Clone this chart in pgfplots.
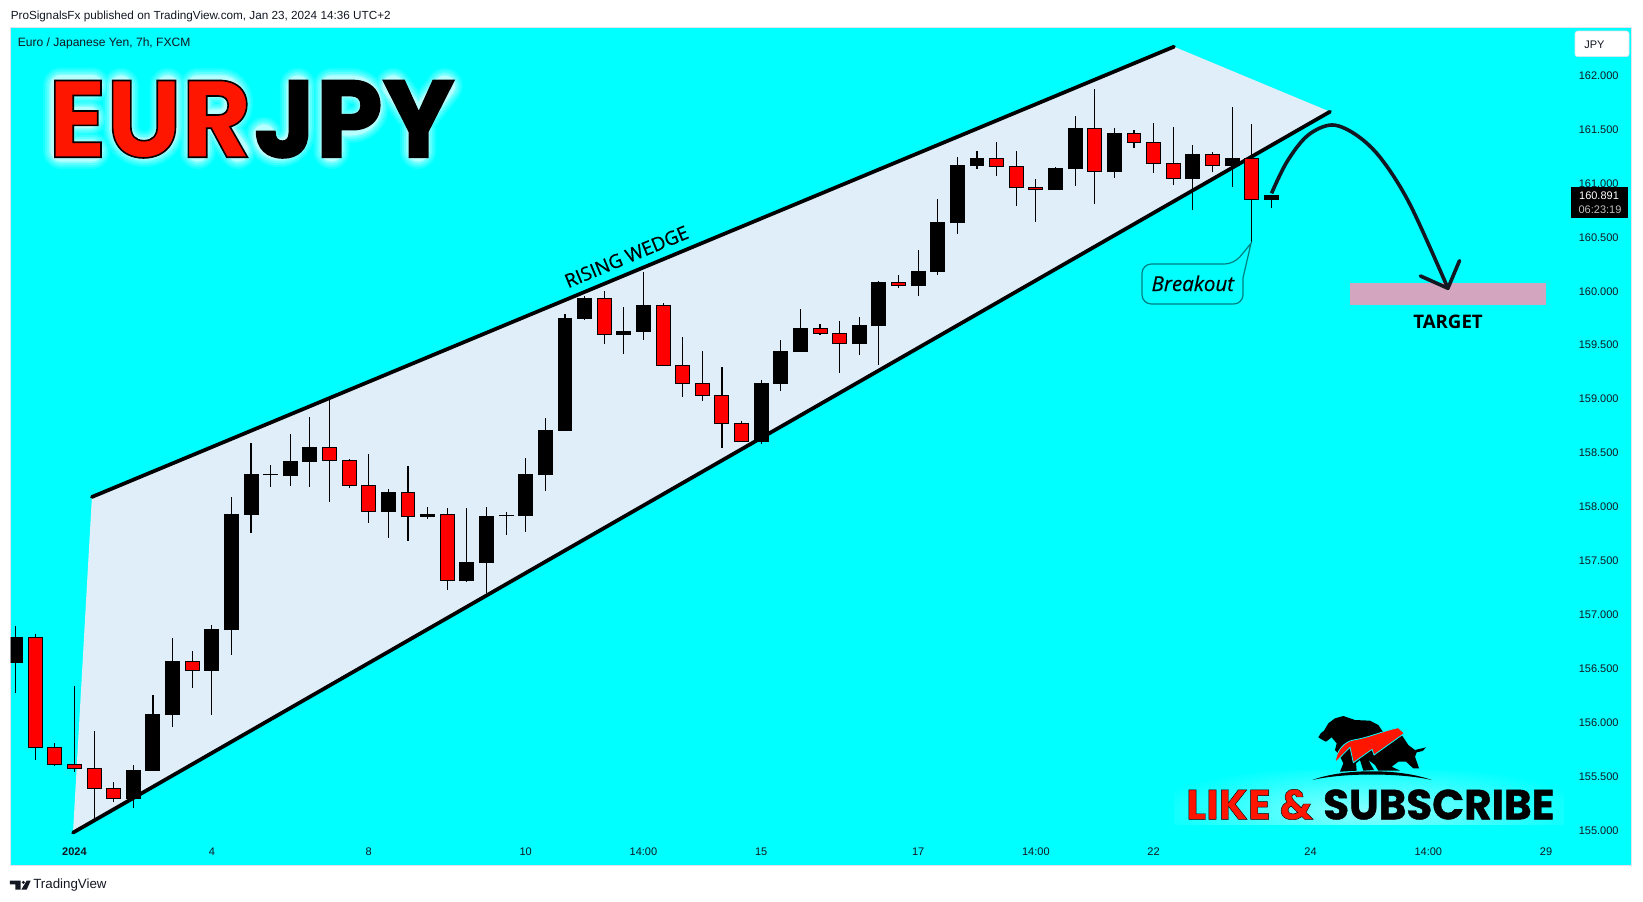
\documentclass[border=0pt]{standalone}
\usepackage{fontspec}
\usepackage{pgfplots}
\usepackage{pgfplotstable}
\pgfplotsset{compat=1.18}
\setmainfont{Liberation Sans}
\newfontfamily\pop{Poppins}
\newfontfamily\opn{Open Sans}
\definecolor{panel}{HTML}{00FFFF}
\definecolor{wedge}{HTML}{E0EEF9}
\definecolor{target}{HTML}{D4A5BF}
\definecolor{edge}{HTML}{E0E3EB}
\definecolor{ink}{HTML}{131722}
\definecolor{teal}{HTML}{007F7F}
\definecolor{logored}{HTML}{FF1600}

% candles: index, high, body top, body bottom, low
\pgfplotstableread{
i high top bot low
0 156.896 156.794 156.555 156.277
6 155.606 155.560 155.294 155.207
7 156.256 156.079 155.554 155.554
8 156.784 156.571 156.073 155.962
10 156.905 156.868 156.481 156.073
11 158.092 157.935 156.862 156.627
12 158.593 158.306 157.928 157.758
13 158.389 158.306 158.296 158.185
14 158.677 158.426 158.287 158.194
15 158.834 158.556 158.420 158.185
19 158.163 158.136 157.953 157.712
21 157.996 157.935 157.907 157.891
23 157.990 157.486 157.313 157.304
24 157.996 157.916 157.480 157.199
25 157.950 157.925 157.919 157.740
26 158.454 158.306 157.916 157.768
27 158.822 158.714 158.299 158.151
28 159.786 159.752 158.707 158.707
29 159.953 159.938 159.746 159.734
31 159.851 159.632 159.598 159.418
32 160.176 159.873 159.626 159.551
38 159.174 159.149 158.605 158.584
39 159.545 159.446 159.143 159.078
40 159.836 159.660 159.437 159.437
43 159.759 159.687 159.511 159.409
44 160.096 160.086 159.678 159.316
46 160.380 160.188 160.049 159.956
47 160.856 160.643 160.182 160.154
48 161.246 161.172 160.634 160.532
49 161.301 161.237 161.162 161.135
53 161.150 161.144 160.940 160.940
54 161.626 161.515 161.135 160.977
56 161.512 161.469 161.107 161.054
60 161.357 161.274 161.042 160.754
62 161.710 161.237 161.162 160.968
64 160.893 160.893 160.850 160.776
}\blackc
\pgfplotstableread{
i high top bot low
1 156.818 156.790 155.770 155.653
2 155.807 155.770 155.609 155.597
3 156.339 155.612 155.572 155.541
4 155.922 155.575 155.390 155.096
5 155.445 155.390 155.294 155.263
9 156.664 156.568 156.481 156.321
16 159.011 158.553 158.429 158.046
17 158.442 158.432 158.197 158.176
18 158.491 158.200 157.956 157.851
20 158.380 158.136 157.910 157.684
22 157.990 157.931 157.316 157.230
30 160.000 159.935 159.598 159.514
33 159.892 159.870 159.310 159.310
34 159.576 159.313 159.143 159.023
35 159.446 159.146 159.032 158.986
36 159.295 159.035 158.772 158.550
37 158.797 158.775 158.605 158.605
41 159.694 159.657 159.607 159.595
42 159.722 159.610 159.514 159.242
45 160.148 160.083 160.052 160.031
50 161.385 161.237 161.156 161.072
51 161.301 161.162 160.961 160.791
52 161.039 160.965 160.943 160.643
55 161.877 161.512 161.110 160.810
57 161.496 161.466 161.379 161.329
58 161.561 161.382 161.184 161.098
59 161.521 161.187 161.045 160.986
61 161.292 161.271 161.166 161.104
63 161.552 161.234 160.850 160.445
}\redc

% fill in one colour, outline in black, as one piece of text
\newcommand\outlined[4]{\textcolor{#1}{\special{pdf:code 0 0 0 RG}\pop\bfseries\addfontfeature{FakeBold=#2}\fontsize{#3}{#3}\selectfont #4}}

\begin{document}
\begin{tikzpicture}[x=0.75pt,y=-0.75pt]
\path[use as bounding box] (0,0) rectangle (1643,901);
\begin{axis}[
    at={(7.875pt,-649.125pt)},
    anchor=south west,
    scale only axis,
    width=1216.1pt,
    height=628.65pt,
    xmin=-0.26, xmax=82.38,
    ymin=154.673, ymax=162.449,
    axis background/.style={fill=panel},
    axis line style={draw=edge,line width=0.75pt},
    major tick length=0pt,
    tick style={draw=none},
    xtick={3,10,18,26,32,38,46,52,58,66,72,78},
    xticklabels={\textbf{2024},4,8,10,14:00,15,17,14:00,22,24,14:00,29},
    xticklabel style={anchor=center,yshift=10.4pt},
    ytick={155,155.5,156,156.5,157,157.5,158,158.5,159,159.5,160,160.5,161,161.5,162},
    yticklabel pos=right,
    yticklabel style={anchor=east,xshift=-6.5pt,
      /pgf/number format/.cd,fixed,fixed zerofill,precision=3,1000 sep={},assume math mode=true},
    tick label style={font=\fontsize{8.25}{10}\selectfont,text=ink},
  ]
% wedge area and its two trend lines
\addplot[fill=wedge,draw=none] coordinates {(2.926,154.978) (3.889,158.092) (59.04,162.269) (66.99,161.666)} -- cycle;
\addplot[black,line width=2.8pt,line cap=round] coordinates {(3.889,158.092) (59.04,162.269)};
\addplot[black,line width=2.8pt,line cap=round] coordinates {(2.926,154.978) (66.99,161.666)};
% target zone
\addplot[fill=target,draw=none] coordinates {(67.99,160.080) (78.02,160.080) (78.02,159.873) (67.99,159.873)} -- cycle;
% wicks
\addplot[black,line width=0.85pt,mark=none,quiver={u=0,v=\thisrow{high}-\thisrow{low}}] table[x=i,y=low] {\blackc};
\addplot[black,line width=0.85pt,mark=none,quiver={u=0,v=\thisrow{high}-\thisrow{low}}] table[x=i,y=low] {\redc};
% bodies
\addplot[black,line width=11.2pt,mark=none,quiver={u=0,v=\thisrow{top}-\thisrow{bot}+0.006}] table[x=i,y expr=\thisrow{bot}-0.003] {\blackc};
\addplot[black,line width=11.2pt,mark=none,quiver={u=0,v=\thisrow{top}-\thisrow{bot}+0.006}] table[x=i,y expr=\thisrow{bot}-0.003] {\redc};
\addplot[red,line width=9.7pt,mark=none,quiver={u=0,v=\thisrow{top}-\thisrow{bot}-0.012}] table[x=i,y expr=\thisrow{bot}+0.006] {\redc};
% forecast arrow
\addplot[ink,line width=2.7pt,smooth,tension=0.55] coordinates {(64.01,160.909) (64.80,161.203) (65.85,161.445) (67.10,161.543) (68.37,161.445) (69.62,161.225) (71.08,160.801) (73.0,160.028)};
\addplot[ink,line width=2.7pt,line cap=round,line join=round] coordinates {(71.6,160.142) (73.0,160.028) (73.59,160.284)};
\end{axis}

% header and footer
\node[anchor=west,inner sep=0,text=ink] at (10.5,16) {\fontsize{8.8}{10}\selectfont ProSignalsFx published on TradingView.com, Jan 23, 2024 14:36 UTC+2};
\node[anchor=west,inner sep=0,text=ink] at (17.5,43) {\fontsize{9.05}{10}\selectfont Euro / Japanese Yen, 7h, FXCM};
\node[anchor=west,inner sep=0,text=ink] at (33,885) {\fontsize{10}{12}\selectfont TradingView};
\begin{scope}[shift={(0,867)},scale=1/3]
  \fill[ink] (30,41) -- (62,41) -- (62,68) -- (46,68) -- (46,52) -- (30,52) -- cycle;
  \fill[ink] (70,46) circle (5);
  \fill[ink] (80,41) -- (92,41) -- (80,68) -- (64,68) -- cycle;
\end{scope}

% currency button and last price tag
\fill[white,draw=edge,rounded corners=2pt] (1575,31) rectangle (1629,56.7);
\node[anchor=west,inner sep=0,text=ink] at (1584,44.3) {\fontsize{8.25}{10}\selectfont JPY};
\fill[black] (1571,187.3) rectangle (1627.6,217.7);
\node[inner sep=0,text=white] at (1599,195.7) {\fontsize{8.25}{10}\selectfont 160.891};
\node[inner sep=0,text=white!75!black] at (1600,210) {\fontsize{8.25}{10}\selectfont 06:23:19};

% title: pale glow drawn along the letter strokes, text on top
\foreach \w/\o in {36/.10,32/.14,28/.18,24/.26,21/.4}{
  \draw[white,opacity=\o,line width=\w*0.75pt,line cap=round,line join=round]
    (92,85.5) -- (61,85.5) -- (61,151) -- (92,151) (61,117.5) -- (89,117.5)
    (121,86) -- (121,125) .. controls (121,157) and (167.7,157) .. (167.7,125) -- (167.7,86)
    (197.8,151) -- (197.8,86) -- (220,86) .. controls (240,86) and (240,120) .. (220,120) -- (197.8,120) (215,120) -- (238,151)
    (297.8,86) -- (297.8,128) .. controls (297.8,155) and (265,155) .. (264,135)
    (331.5,151) -- (331.5,86) -- (350,86) .. controls (378,86) and (378,125) .. (350,125) -- (331.5,125)
    (393,86) -- (418,120) -- (444.7,86) (418,120) -- (418,151);
}
\node[anchor=west,inner sep=0] at (48,119.2) {\scalebox{0.98}[1]{\outlined{logored}{1.5}{82}{EUR}}};
\node[anchor=west,inner sep=0] at (253.6,119.2) {\scalebox{0.98}[1]{\outlined{black}{1.5}{82}{JPY}}};

% annotations
\node[rotate=22.6,inner sep=0,text=black] at (626.5,256.7) {\opn\addfontfeature{FakeBold=0.6}\fontsize{14.2}{16}\selectfont RISING WEDGE};
\node[inner sep=0,text=black] at (1448,322.3) {\opn\bfseries\fontsize{14}{16}\selectfont TARGET};
\filldraw[fill=panel,draw=teal,line width=0.9pt,rounded corners=7pt]
  (1142,264) -- (1234,264) [sharp corners] -- (1251,243.3) -- (1243,278) [rounded corners=7pt] -- (1243,304) -- (1142,304) -- cycle;
\node[inner sep=0,text=black] at (1192.8,283.3) {\opn\itshape\addfontfeature{FakeBold=0.3}\fontsize{15.4}{16}\selectfont Breakout};

% like and subscribe badge
\begin{scope}
  \clip (1174,770) rectangle (1564,824);
  \shade[inner color=panel!45!white,outer color=panel] (1369,812) ellipse (225 and 48);
\end{scope}
\node[anchor=west,inner sep=0] at (1186,804.5) {\outlined{logored}{1}{31.5}{LIKE \&}};
\node[anchor=west,inner sep=0] at (1323,804.5) {\outlined{black}{1}{31.5}{SUBSCRIBE}};
\begin{scope}[shift={(1300,700)},scale=1/3]
  \fill[black] (55,112) -- (62,100) -- (72,92) -- (85,70) -- (105,55) -- (130,48) -- (165,60) -- (210,62) -- (235,75) -- (252,100) -- (305,105) -- (325,135) -- (345,150) -- (378,142) -- (368,153) -- (350,157) -- (345,170) -- (357,205) -- (340,205) -- (318,185) -- (295,185) -- (275,200) -- (300,212) -- (235,212) -- (225,195) -- (205,180) -- (222,210) -- (190,212) -- (180,180) -- (168,190) -- (170,212) -- (120,215) -- (130,190) -- (118,165) -- (105,150) -- (110,130) -- (95,112) -- (78,125) -- (68,120) -- cycle;
  \fill[black] (37,240) .. controls (130,205) and (300,205) .. (395,240) .. controls (300,218) and (130,218) .. (37,240) -- cycle;
  \filldraw[fill=logored,draw=panel,line width=0.6pt] (106,188) .. controls (108,150) and (135,125) .. (160,120) .. controls (210,112) and (250,92) .. (295,83) -- (313,100) -- (222,165) -- (216,148) -- (160,188) -- (150,142) -- (130,162) -- cycle;
\end{scope}
\end{tikzpicture}
\end{document}
